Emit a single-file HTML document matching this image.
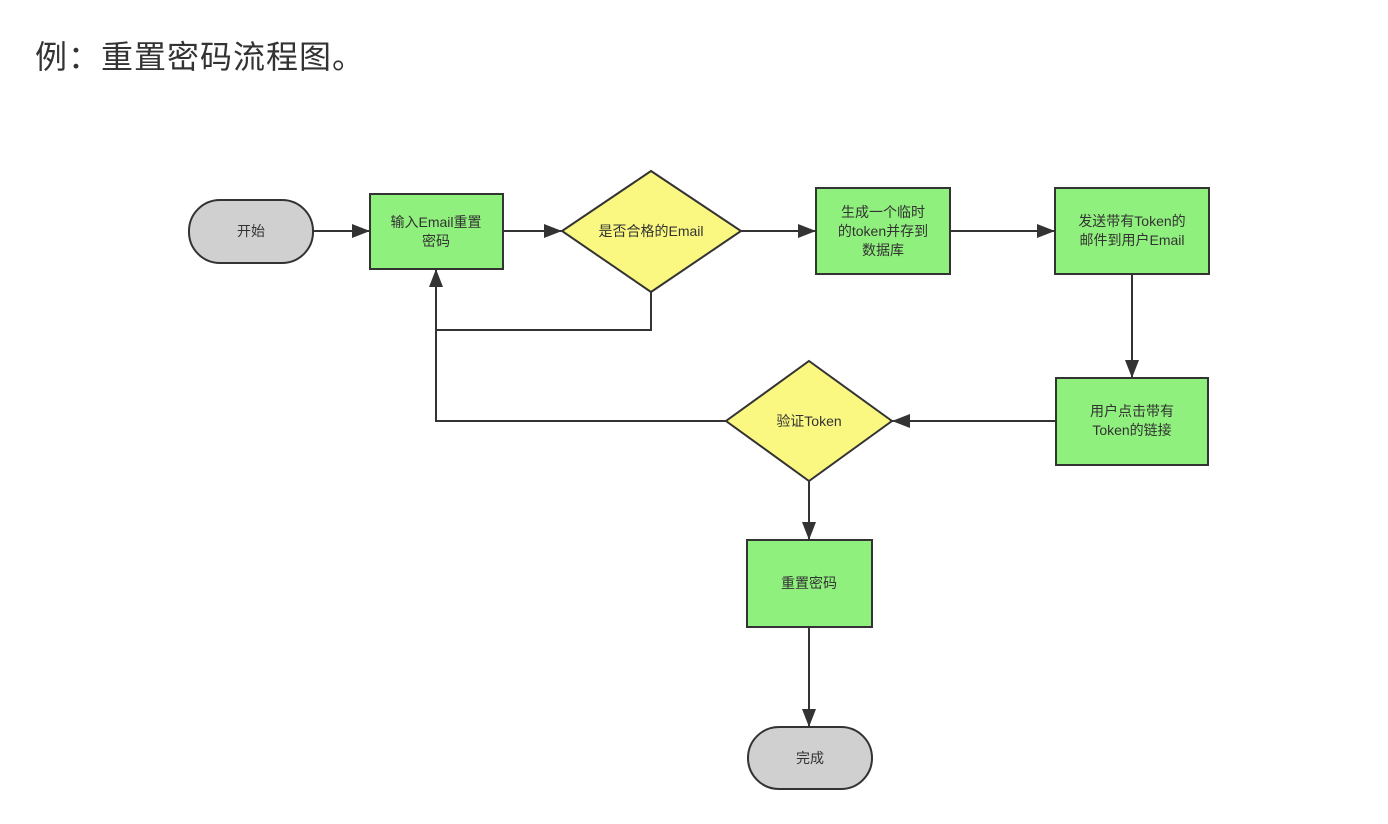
<!DOCTYPE html>
<html><head><meta charset="utf-8"><style>
html,body{margin:0;padding:0;background:#fff;width:1388px;height:824px;overflow:hidden}
.t{position:absolute;left:35px;top:32px;font:32px "Liberation Sans","Noto Sans CJK SC",sans-serif;color:#333;letter-spacing:1px}
svg{position:absolute;left:0;top:0}
text{font-family:"Liberation Sans","Noto Sans CJK SC",sans-serif;font-size:14px;fill:#333;text-anchor:middle}
</style></head><body>
<div class="t">例：重置密码流程图。</div>
<svg width="1388" height="824" viewBox="0 0 1388 824">
<defs><marker id="a" markerWidth="10" markerHeight="10" refX="9" refY="5" orient="auto" markerUnits="userSpaceOnUse"><path d="M0,0L10,5L0,10z" fill="#333"/></marker>
<marker id="b" viewBox="0 0 18 14" markerWidth="18" markerHeight="14" refX="18" refY="7" orient="auto" markerUnits="userSpaceOnUse"><path d="M0,0L18,7L0,14z" fill="#333"/></marker></defs>
<g stroke="#333" stroke-width="2" fill="none">
<line x1="313" y1="231" x2="370" y2="231" marker-end="url(#b)"/>
<line x1="503" y1="231" x2="562" y2="231" marker-end="url(#b)"/>
<line x1="741" y1="231" x2="816" y2="231" marker-end="url(#b)"/>
<line x1="950" y1="231" x2="1055" y2="231" marker-end="url(#b)"/>
<line x1="1132" y1="274" x2="1132" y2="378" marker-end="url(#b)"/>
<line x1="1056" y1="421" x2="892" y2="421" marker-end="url(#b)"/>
<polyline points="651,292 651,330 436,330"/>
<polyline points="726,421 436,421 436,269" marker-end="url(#b)"/>
<line x1="809" y1="481" x2="809" y2="540" marker-end="url(#b)"/>
<line x1="809" y1="627" x2="809" y2="727" marker-end="url(#b)"/>
</g>
<g stroke="#333" stroke-width="2">
<rect x="189" y="200" width="124" height="63" rx="31" fill="#d0d0d0"/>
<rect x="748" y="727" width="124" height="62" rx="31" fill="#d0d0d0"/>
<rect x="370" y="194" width="133" height="75" fill="#90f07e"/>
<rect x="816" y="188" width="134" height="86" fill="#90f07e"/>
<rect x="1055" y="188" width="154" height="86" fill="#90f07e"/>
<rect x="1056" y="378" width="152" height="87" fill="#90f07e"/>
<rect x="747" y="540" width="125" height="87" fill="#90f07e"/>
<polygon points="651,171 741,231 651,292 562,231" fill="#fbf882"/>
<polygon points="809,361 892,421 809,481 726,421" fill="#fbf882"/>
</g>
<text x="251" y="236">开始</text>
<text x="810" y="763">完成</text>
<text x="436" y="227">输入Email重置</text><text x="436" y="246">密码</text>
<text x="651" y="236">是否合格的Email</text>
<text x="883" y="217">生成一个临时</text><text x="883" y="236">的token并存到</text><text x="883" y="255">数据库</text>
<text x="1132" y="226">发送带有Token的</text><text x="1132" y="245">邮件到用户Email</text>
<text x="1132" y="416">用户点击带有</text><text x="1132" y="435">Token的链接</text>
<text x="809" y="426">验证Token</text>
<text x="809" y="588">重置密码</text>
</svg>
</body></html>
